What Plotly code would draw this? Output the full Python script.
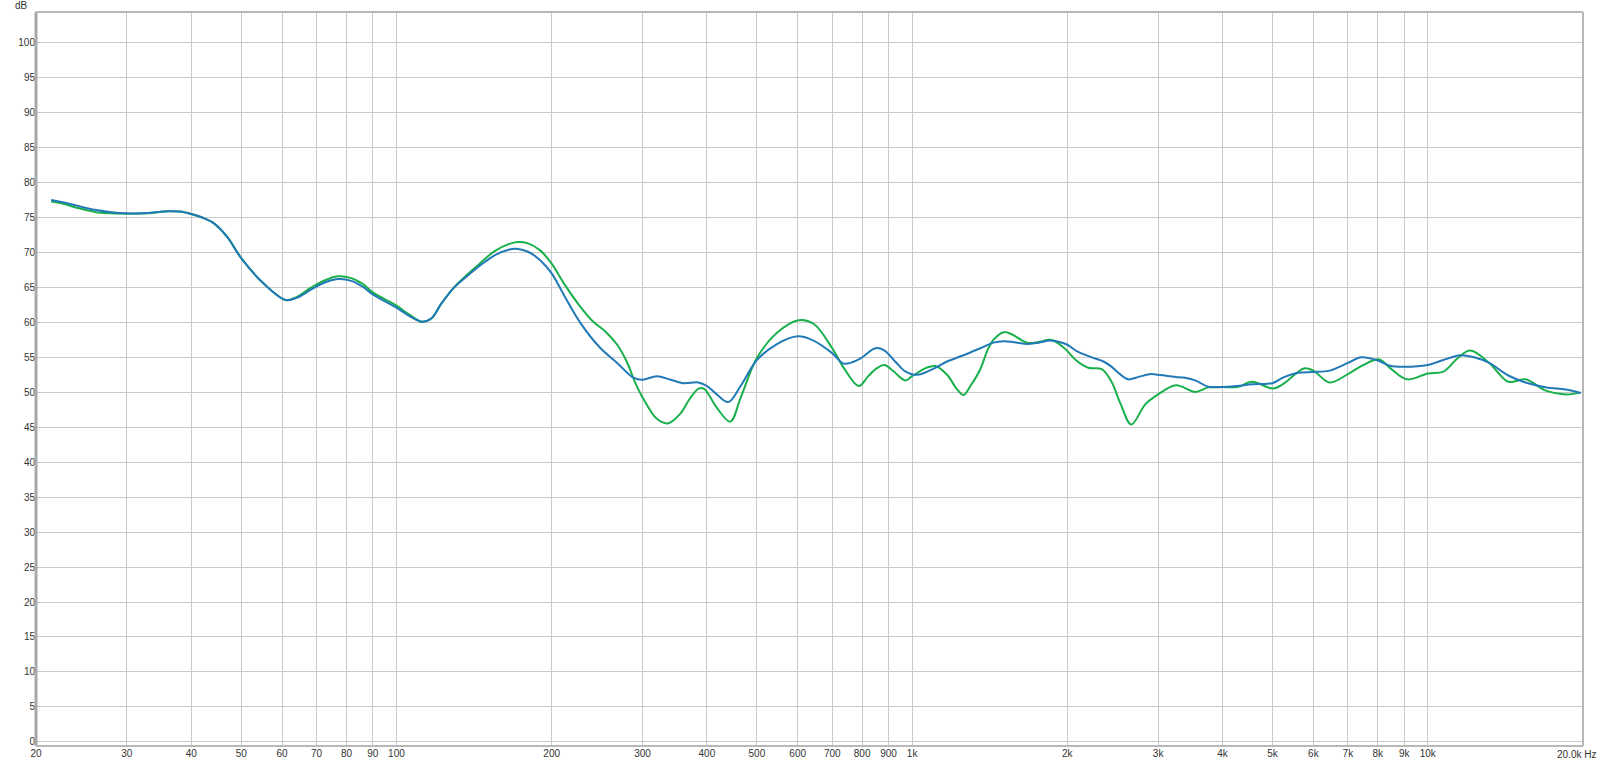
import plotly.graph_objects as go

# ---- data ----
freq_blue = [21.4, 22.5, 24, 26, 28, 30, 33, 36, 38, 40, 42, 44.2, 47, 50, 55.2, 61, 64, 68, 72, 77, 82, 86, 90,
             95, 100, 106, 112, 117, 122, 129, 137, 145, 155, 165, 172, 180, 190, 200, 212, 227, 248, 268, 288, 300,
             320, 340, 360, 385, 400, 418, 440, 465, 500, 547, 600, 644, 700, 737, 788, 849, 883, 930, 970, 1022,
             1109, 1169, 1258, 1356, 1438, 1505, 1600, 1670, 1760, 1851, 1930, 2000, 2085, 2231, 2350, 2432, 2530,
             2625, 2750, 2908, 3000, 3248, 3361, 3538, 3755, 4000, 4269, 4571, 5000, 5236, 5608, 6000, 6449, 7000,
             7430, 8000, 8444, 9000, 10000, 10541, 11576, 12300, 13157, 14330, 15471, 16986, 18515, 19800]
db_blue = [77.5, 77.2, 76.7, 76.1, 75.75, 75.6, 75.65, 75.9, 75.85, 75.5, 75.0, 74.2, 72.2, 69.2, 65.6, 63.2,
           63.5, 64.6, 65.6, 66.2, 65.9, 65.1, 64.0, 63.0, 62.1, 60.9, 60.1, 60.6, 62.6, 64.9, 66.6, 68.1, 69.6, 70.4,
           70.5, 70.1, 68.9, 67.0, 63.7, 60.0, 56.4, 54.2, 52.1, 51.8, 52.3, 51.8, 51.3, 51.4, 50.9, 49.7, 48.6, 50.9,
           54.6, 56.9, 58.0, 57.4, 55.6, 54.1, 54.7, 56.3, 56.0, 54.3, 53.0, 52.5, 53.5, 54.4, 55.3, 56.3, 57.1, 57.3,
           57.1, 56.9, 57.1, 57.4, 57.2, 56.8, 55.9, 55.0, 54.4, 53.7, 52.6, 51.85, 52.2, 52.6, 52.5, 52.2, 52.1, 51.7,
           50.8, 50.75, 50.9, 51.15, 51.3, 52.1, 52.8, 52.9, 53.1, 54.2, 55.0, 54.55, 53.8, 53.65, 53.9, 54.45, 55.3,
           55.0, 54.2, 52.4, 51.4, 50.7, 50.4, 49.9]

freq_green = [21.4, 22.5, 24, 26, 28, 30, 33, 36, 38, 40, 42, 44.2, 47, 50, 55.2, 61, 64, 68, 72, 77, 82, 86, 90,
              95, 100, 106, 112, 117, 122, 129, 137, 145, 155, 165, 172, 180, 190, 200, 212, 227, 240, 255, 268, 280,
              290, 300, 320, 336, 355, 370, 385, 395, 418, 444, 465, 500, 547, 602, 644, 700, 737, 788, 820, 849, 883,
              920, 970, 1000, 1065, 1109, 1169, 1220, 1258, 1300, 1356, 1400, 1438, 1505, 1560, 1670, 1760, 1851, 1930,
              2000, 2085, 2196, 2331, 2432, 2538, 2661, 2835, 3000, 3248, 3538, 3755, 4000, 4269, 4571, 5000, 5236,
              5752, 6000, 6449, 7000, 7430, 8054, 8444, 9117, 10012, 10717, 11400, 12079, 13157, 14330, 15471, 16986,
              18515, 19800]
db_green = [77.3, 77.0, 76.4, 75.8, 75.6, 75.55, 75.6, 75.9, 75.85, 75.5, 75.0, 74.2, 72.2, 69.2, 65.6, 63.2,
            63.6, 64.9, 65.9, 66.6, 66.3, 65.5, 64.3, 63.3, 62.4, 61.1, 60.1, 60.6, 62.6, 64.9, 66.8, 68.4, 70.2, 71.2,
            71.5, 71.3, 70.3, 68.4, 65.4, 62.3, 60.2, 58.6, 56.8, 54.3, 51.5, 49.3, 46.2, 45.55, 46.9, 49.0, 50.5, 50.5,
            47.8, 45.8, 49.2, 54.9, 58.5, 60.3, 59.8, 56.3, 53.5, 50.9, 52.2, 53.3, 53.9, 53.0, 51.7, 52.3, 53.5, 53.75,
            52.5, 50.5, 49.6, 51.0, 53.3, 56.0, 57.5, 58.6, 58.3, 57.1, 57.2, 57.5, 56.9, 55.9, 54.5, 53.5, 53.3, 51.6,
            48.3, 45.4, 48.3, 49.7, 51.0, 50.05, 50.7, 50.75, 50.75, 51.5, 50.55, 51.15, 53.4, 53.1, 51.4, 52.6, 53.75,
            54.7, 53.5, 51.85, 52.7, 52.95, 54.8, 55.97, 54.2, 51.5, 51.85, 50.2, 49.7, 49.95]

x_tickvals = [20, 30, 40, 50, 60, 70, 80, 90, 100, 200, 300, 400, 500, 600, 700, 800, 900,
              1000, 2000, 3000, 4000, 5000, 6000, 7000, 8000, 9000, 10000, 20000]
x_ticktext = ["20", "30", "40", "50", "60", "70", "80", "90", "100", "200", "300", "400", "500", "600", "700",
              "800", "900", "1k", "2k", "3k", "4k", "5k", "6k", "7k", "8k", "9k", "10k", ""]
x_end_label = "20.0k Hz"
y_tickvals = list(range(0, 101, 5))

GREEN = "#19b04b"
BLUE = "#2179b7"
FONT = "Liberation Sans"
TXT = "#333333"

fig = go.Figure()
fig.add_trace(go.Scatter(x=freq_green, y=db_green, mode="lines",
                         line=dict(color=GREEN, width=2, shape="spline", smoothing=1.0),
                         hoverinfo="skip", showlegend=False))
fig.add_trace(go.Scatter(x=freq_blue, y=db_blue, mode="lines",
                         line=dict(color=BLUE, width=2, shape="spline", smoothing=1.0),
                         hoverinfo="skip", showlegend=False))

fig.update_layout(
    width=1600, height=771,
    margin=dict(l=36, r=17, t=12, b=20),
    paper_bgcolor="white", plot_bgcolor="white",
    font=dict(family=FONT, size=10, color=TXT),
    xaxis=dict(type="log", range=[1.30103, 4.30103], tickmode="array",
               tickvals=x_tickvals, ticktext=x_ticktext, showgrid=True,
               gridcolor="#cacaca", gridwidth=1, zeroline=False, showline=False,
               ticks="", tickfont=dict(size=10, family=FONT, color=TXT)),
    yaxis=dict(range=[-0.6, 104.4], tickmode="array", tickvals=y_tickvals,
               showgrid=True, gridcolor="#cacaca", gridwidth=1, zeroline=False,
               showline=False, ticks="", tickfont=dict(size=10, family=FONT, color=TXT)),
    annotations=[
        dict(text="dB", xref="paper", yref="paper", x=-0.004, y=1.0, xanchor="right",
             yanchor="bottom", showarrow=False, yshift=-1,
             font=dict(size=10, family=FONT, color=TXT)),
        dict(text=x_end_label, xref="paper", yref="paper", x=1.0, y=0.0, xanchor="right",
             yanchor="top", showarrow=False, xshift=15, yshift=-1,
             font=dict(size=10, family=FONT, color=TXT)),
    ],
    shapes=[
        dict(type="line", xref="paper", yref="paper", x0=0, x1=0, y0=0, y1=1,
             line=dict(color="#a8a8a8", width=3)),
        dict(type="line", xref="paper", yref="paper", x0=0, x1=1, y0=1, y1=1,
             line=dict(color="#b8b8b8", width=2)),
        dict(type="line", xref="paper", yref="paper", x0=1, x1=1, y0=0, y1=1,
             line=dict(color="#b8b8b8", width=2)),
        dict(type="line", xref="paper", yref="paper", x0=0, x1=1, y0=0, y1=0,
             line=dict(color="#b8b8b8", width=2)),
    ],
)

fig.write_html("out.html")
